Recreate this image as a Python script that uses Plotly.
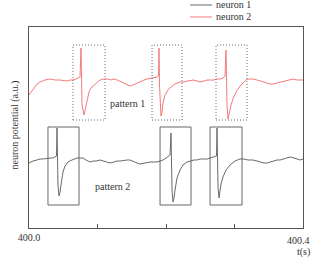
import plotly.graph_objects as go

# time in ms after t = 400 s
t2_ms = [0, 5.8, 11.7, 16.1, 23.4, 30.7, 38.0, 45.3, 51.1, 55.5, 59.9, 64.2, 68.6, 73.0, 74.5, 75.9, 76.7,
         77.4, 80.3, 81.8, 84.7, 87.6, 90.5, 94.9, 99.3, 103.7, 109.5, 115.3, 119.7, 124.1, 128.5, 134.3,
         138.7, 143.1, 147.5, 151.8, 157.7, 162.1, 167.9, 172.3, 178.1, 182.5, 186.9, 189.1, 189.8, 190.5,
         191.3, 192.7, 194.2, 195.6, 198.6, 202.9, 207.3, 213.2, 220.5, 226.3, 232.1, 239.4, 245.3, 249.7,
         255.5, 259.9, 264.3, 270.1, 274.5, 278.9, 283.2, 286.2, 287.6, 288.4, 289.1, 290.5, 292.0, 294.9,
         297.8, 302.2, 308.1, 313.9, 318.3, 322.7, 327.0, 332.9, 337.3, 341.6, 347.5, 351.9, 356.2, 362.1,
         366.5, 370.8, 376.7, 381.1, 385.4, 391.3, 395.7, 400.0]
neuron2 = [0.665, 0.69, 0.72, 0.73, 0.74, 0.745, 0.74, 0.74, 0.735, 0.735, 0.74, 0.74, 0.745, 0.75, 0.755,
           0.90, 0.74, 0.615, 0.565, 0.59, 0.64, 0.68, 0.70, 0.715, 0.73, 0.74, 0.745, 0.745, 0.74, 0.745,
           0.74, 0.73, 0.725, 0.715, 0.71, 0.715, 0.725, 0.73, 0.74, 0.745, 0.75, 0.75, 0.755, 0.76, 0.90,
           0.715, 0.615, 0.56, 0.58, 0.625, 0.665, 0.69, 0.705, 0.72, 0.73, 0.73, 0.735, 0.74, 0.735, 0.73,
           0.735, 0.74, 0.74, 0.74, 0.745, 0.745, 0.75, 0.76, 0.89, 0.715, 0.615, 0.545, 0.575, 0.615, 0.645,
           0.68, 0.71, 0.73, 0.745, 0.745, 0.745, 0.74, 0.735, 0.73, 0.725, 0.72, 0.72, 0.725, 0.73, 0.73,
           0.735, 0.74, 0.745, 0.74, 0.74, 0.74]

t1_ms = [0, 5.8, 11.7, 16.1, 20.4, 26.3, 30.7, 35.0, 38.0, 40.2, 40.9, 41.6, 42.3, 43.8, 45.3, 46.7, 49.6,
         52.6, 56.9, 62.8, 70.1, 74.5, 78.8, 83.2, 89.1, 93.4, 97.8, 103.7, 109.5, 113.9, 118.3, 124.1,
         128.5, 132.9, 138.7, 143.1, 147.5, 153.3, 157.7, 162.1, 167.9, 172.3, 176.7, 182.5, 186.9, 191.3,
         195.6, 200.0, 202.9, 205.9, 207.3, 208.1, 208.8, 210.2, 211.7, 213.2, 216.1, 220.5, 224.8, 230.7,
         235.1, 240.9, 245.3, 249.7, 255.5, 259.9, 264.3, 268.6, 273.8, 274.5, 275.2, 276.0, 277.4, 278.9,
         280.3, 283.2, 287.6, 293.5, 300.8, 308.1, 313.9, 319.7, 327.0, 332.9, 337.3, 343.1, 347.5, 351.9,
         357.7, 362.1, 366.5, 372.3, 376.7, 381.1, 386.9, 391.3, 395.7, 400.0]
neuron1 = [0.325, 0.335, 0.34, 0.345, 0.345, 0.35, 0.35, 0.35, 0.355, 0.36, 0.50, 0.34, 0.215, 0.16, 0.18,
           0.215, 0.28, 0.31, 0.33, 0.34, 0.35, 0.35, 0.35, 0.34, 0.33, 0.335, 0.335, 0.34, 0.335, 0.33,
           0.325, 0.33, 0.335, 0.335, 0.34, 0.34, 0.34, 0.33, 0.325, 0.32, 0.325, 0.33, 0.33, 0.33, 0.33,
           0.335, 0.34, 0.35, 0.36, 0.365, 0.475, 0.315, 0.19, 0.13, 0.15, 0.19, 0.25, 0.29, 0.315, 0.33,
           0.335, 0.34, 0.34, 0.345, 0.345, 0.345, 0.35, 0.355, 0.36, 0.50, 0.315, 0.20, 0.15, 0.18, 0.22,
           0.255, 0.29, 0.315, 0.335, 0.345, 0.345, 0.34, 0.34, 0.335, 0.33, 0.325, 0.325, 0.33, 0.335,
           0.34, 0.34, 0.345, 0.35, 0.355, 0.35, 0.345, 0.34, 0.345]

# pattern windows (ms after 400 s) and potential ranges
pattern1_start = [64.2, 179.6, 273.0]
pattern1_end = [111.0, 223.4, 318.3]
pattern1_range = [0.54, 0.915]
pattern2_start = [27.7, 191.3, 264.3]
pattern2_end = [73.0, 236.5, 311.0]
pattern2_range = [0.115, 0.505]

tick_vals = [400.0, 400.1, 400.2, 400.3, 400.4]
tick_text = ["400.0", "", "", "", ""]
end_label = "400.4"

T0 = 400.0
to_s = lambda arr: [T0 + v / 1000.0 for v in arr]

FONT = "Liberation Serif"
PINK = "#f47a7a"
GRAY = "#6a6a6a"
AX = "#555555"
TXT = "#333333"

fig = go.Figure()
fig.add_trace(go.Scatter(x=to_s(t1_ms), y=neuron1, mode="lines", name="neuron 1",
                         line=dict(color=GRAY, width=1), showlegend=False))
fig.add_trace(go.Scatter(x=to_s(t2_ms), y=neuron2, mode="lines", name="neuron 2",
                         line=dict(color=PINK, width=1), showlegend=False))

for a, b in zip(pattern1_start, pattern1_end):
    fig.add_shape(type="rect", xref="x", yref="y", x0=T0 + a / 1000, x1=T0 + b / 1000,
                  y0=pattern1_range[0], y1=pattern1_range[1],
                  line=dict(color="#666666", width=1, dash="1px,2px"))
for a, b in zip(pattern2_start, pattern2_end):
    fig.add_shape(type="rect", xref="x", yref="y", x0=T0 + a / 1000, x1=T0 + b / 1000,
                  y0=pattern2_range[0], y1=pattern2_range[1],
                  line=dict(color="#666666", width=1))

fig.add_annotation(x=T0 + 0.1445, y=0.625, xref="x", yref="y", text="pattern 1", showarrow=False,
                   font=dict(family=FONT, size=10, color=TXT))
fig.add_annotation(x=T0 + 0.1226, y=0.21, xref="x", yref="y", text="pattern 2", showarrow=False,
                   font=dict(family=FONT, size=10, color=TXT))

# manual legend
leg = [("neuron 1", GRAY, 1.1095), ("neuron 2", PINK, 1.0498)]
for name, col, yy in leg:
    fig.add_shape(type="line", xref="paper", yref="paper", x0=0.5876, x1=0.668, y0=yy, y1=yy,
                  line=dict(color=col, width=1))
    fig.add_annotation(x=0.675, y=yy, xref="paper", yref="paper", text=name, showarrow=False,
                       xanchor="left", yanchor="middle", font=dict(family=FONT, size=10, color=TXT))

fig.add_annotation(x=0, y=0.51, xref="paper", yref="paper", xshift=-22, text="neuron potential (a.u.)",
                   textangle=-90, showarrow=False, font=dict(family=FONT, size=10, color=TXT))
fig.add_annotation(x=1, y=-0.06, xref="paper", yref="paper", xanchor="right", yanchor="middle", xshift=9,
                   text=end_label, showarrow=False, font=dict(family=FONT, size=10, color=TXT))
fig.add_annotation(x=1, y=-0.119, xref="paper", yref="paper", xanchor="right", yanchor="middle", xshift=9,
                   text="t(s)", showarrow=False, font=dict(family=FONT, size=10, color=TXT))

fig.update_layout(
    width=312, height=261, margin=dict(l=29, r=9, t=27, b=33),
    paper_bgcolor="white", plot_bgcolor="white",
    font=dict(family=FONT, size=10, color=TXT),
    xaxis=dict(range=[400.0, 400.4], tickvals=tick_vals, ticktext=tick_text, ticks="inside",
               ticklen=4, tickcolor=AX, showline=True, linecolor=AX, linewidth=1, mirror=True,
               showgrid=False, zeroline=False, tickfont=dict(family=FONT, size=10, color=TXT)),
    yaxis=dict(range=[0, 1.005], showticklabels=False, ticks="", showline=True, linecolor=AX,
               linewidth=1, mirror=True, showgrid=False, zeroline=False),
)

fig.write_html("out.html")
